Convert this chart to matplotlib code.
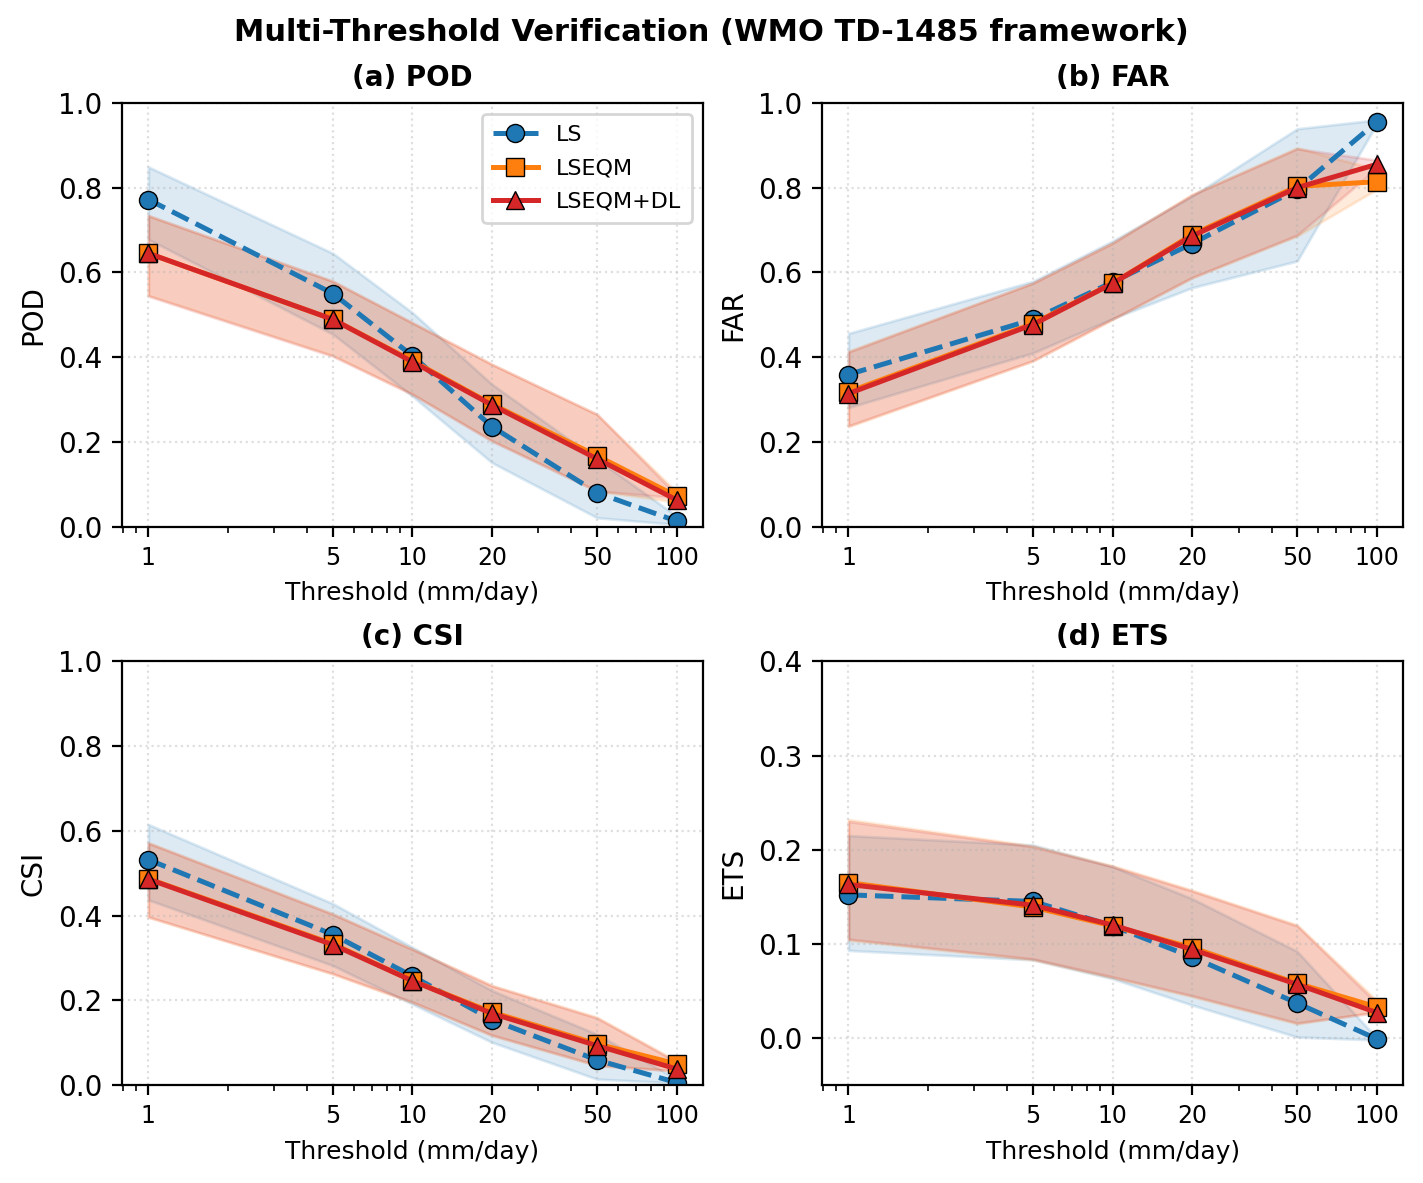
import numpy as np
import matplotlib.pyplot as plt
from matplotlib.ticker import FixedLocator, FixedFormatter, NullFormatter

# Thresholds (mm/day)
thresholds = [1, 5, 10, 20, 50, 100]

# POD
pod_ls = [0.772, 0.550, 0.403, 0.236, 0.080, 0.013]
pod_ls_lo = [0.678, 0.454, 0.308, 0.151, 0.021, 0.005]
pod_ls_hi = [0.849, 0.645, 0.505, 0.336, 0.159, 0.025]
pod_eqm = [0.645, 0.489, 0.391, 0.289, 0.167, 0.072]
pod_eqm_lo = [0.546, 0.404, 0.313, 0.203, 0.084, 0.058]
pod_eqm_hi = [0.734, 0.579, 0.481, 0.383, 0.265, 0.082]
pod_dl = [0.645, 0.489, 0.389, 0.287, 0.160, 0.063]
pod_dl_lo = [0.544, 0.402, 0.312, 0.202, 0.084, 0.068]
pod_dl_hi = [0.734, 0.579, 0.481, 0.383, 0.265, 0.075]

# FAR
far_ls = [0.359, 0.489, 0.577, 0.668, 0.796, 0.955]
far_ls_lo = [0.281, 0.410, 0.491, 0.564, 0.627, 0.950]
far_ls_hi = [0.456, 0.579, 0.674, 0.780, 0.939, 0.960]
far_eqm = [0.318, 0.479, 0.574, 0.689, 0.803, 0.814]
far_eqm_lo = [0.236, 0.391, 0.489, 0.587, 0.686, 0.796]
far_eqm_hi = [0.414, 0.575, 0.670, 0.784, 0.894, 0.843]
far_dl = [0.314, 0.477, 0.574, 0.686, 0.800, 0.855]
far_dl_lo = [0.238, 0.392, 0.490, 0.588, 0.688, 0.845]
far_dl_hi = [0.412, 0.575, 0.669, 0.783, 0.892, 0.865]

# CSI
csi_ls = [0.532, 0.355, 0.257, 0.154, 0.059, 0.006]
csi_ls_lo = [0.437, 0.282, 0.191, 0.101, 0.014, 0.005]
csi_ls_hi = [0.615, 0.428, 0.325, 0.223, 0.120, 0.015]
csi_eqm = [0.487, 0.333, 0.246, 0.172, 0.097, 0.050]
csi_eqm_lo = [0.396, 0.262, 0.195, 0.117, 0.046, 0.034]
csi_eqm_hi = [0.572, 0.404, 0.321, 0.235, 0.160, 0.057]
csi_dl = [0.486, 0.331, 0.246, 0.169, 0.093, 0.038]
csi_dl_lo = [0.397, 0.263, 0.196, 0.118, 0.047, 0.033]
csi_dl_hi = [0.571, 0.403, 0.320, 0.234, 0.158, 0.055]

# ETS
ets_ls = [0.152, 0.145, 0.119, 0.086, 0.037, -0.001]
ets_ls_lo = [0.093, 0.083, 0.063, 0.035, 0.001, -0.002]
ets_ls_hi = [0.215, 0.205, 0.182, 0.148, 0.092, 0.000]
ets_eqm = [0.165, 0.139, 0.119, 0.096, 0.058, 0.033]
ets_eqm_lo = [0.104, 0.083, 0.064, 0.044, 0.015, 0.028]
ets_eqm_hi = [0.232, 0.204, 0.183, 0.157, 0.120, 0.040]
ets_dl = [0.163, 0.141, 0.120, 0.094, 0.057, 0.027]
ets_dl_lo = [0.105, 0.084, 0.065, 0.045, 0.016, 0.027]
ets_dl_hi = [0.230, 0.203, 0.182, 0.156, 0.119, 0.037]

panels = [
    ("(a) POD", "POD", (0, 1.0),
     [(pod_ls, pod_ls_lo, pod_ls_hi), (pod_eqm, pod_eqm_lo, pod_eqm_hi), (pod_dl, pod_dl_lo, pod_dl_hi)]),
    ("(b) FAR", "FAR", (0, 1.0),
     [(far_ls, far_ls_lo, far_ls_hi), (far_eqm, far_eqm_lo, far_eqm_hi), (far_dl, far_dl_lo, far_dl_hi)]),
    ("(c) CSI", "CSI", (0, 1.0),
     [(csi_ls, csi_ls_lo, csi_ls_hi), (csi_eqm, csi_eqm_lo, csi_eqm_hi), (csi_dl, csi_dl_lo, csi_dl_hi)]),
    ("(d) ETS", "ETS", (-0.05, 0.4),
     [(ets_ls, ets_ls_lo, ets_ls_hi), (ets_eqm, ets_eqm_lo, ets_eqm_hi), (ets_dl, ets_dl_lo, ets_dl_hi)]),
]

names = ["LS", "LSEQM", "LSEQM+DL"]
colors = ["#1f77b4", "#ff7f0e", "#d62728"]
markers = ["o", "s", "^"]
styles = ["--", "-", "-"]

fig, axes = plt.subplots(2, 2, figsize=(7.115, 5.915), dpi=200)
fig.subplots_adjust(left=0.0857, right=0.986, top=0.913, bottom=0.0828,
                    wspace=0.205, hspace=0.318)

for ax, (title, ylab, ylim, series) in zip(axes.flat, panels):
    for (vals, lo, hi), name, c, m, ls in zip(series, names, colors, markers, styles):
        ax.fill_between(thresholds, lo, hi, color=c, alpha=0.15, lw=1)
        ax.plot(thresholds, vals, linestyle=ls, marker=m, color=c, lw=1.8,
                ms=6.5, mec="black", mew=0.5, label=name)
    ax.set_xscale("log")
    ax.xaxis.set_major_locator(FixedLocator(thresholds))
    ax.xaxis.set_major_formatter(FixedFormatter([str(t) for t in thresholds]))
    ax.xaxis.set_minor_formatter(NullFormatter())
    ax.tick_params(axis="x", labelsize=8.5)
    ax.set_ylim(*ylim)
    if ylab == "ETS":
        ax.set_yticks([0.0, 0.1, 0.2, 0.3, 0.4])
    ax.set_title(title, fontsize=10, fontweight="bold")
    ax.set_xlabel("Threshold (mm/day)", fontsize=9)
    ax.set_ylabel(ylab, fontsize=10)
    ax.grid(True, linestyle=":", alpha=0.4)

axes[0, 0].legend(loc="upper right", fontsize=8, borderpad=0.5, labelspacing=0.6)
fig.suptitle("Multi-Threshold Verification (WMO TD-1485 framework)",
             fontsize=11, fontweight="bold", y=0.985)

fig.savefig("out.png", dpi=200)
